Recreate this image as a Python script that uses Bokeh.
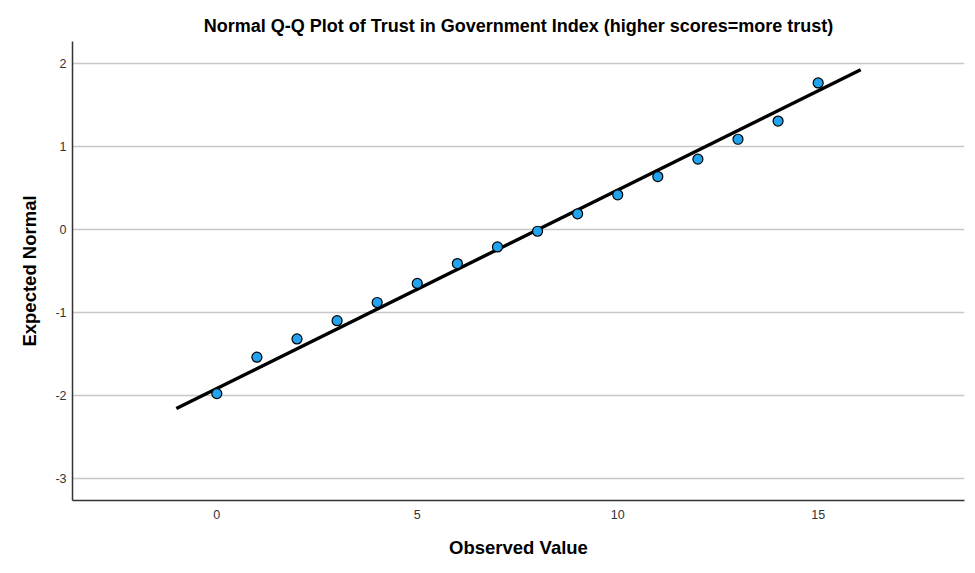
from bokeh.plotting import figure
from bokeh.models import FixedTicker, Range1d
from bokeh.embed import file_html
from bokeh.resources import INLINE

# Data
observed = [0, 1, 2, 3, 4, 5, 6, 7, 8, 9, 10, 11, 12, 13, 14, 15]
expected = [-1.98, -1.54, -1.32, -1.10, -0.88, -0.65, -0.41, -0.21, -0.02,
            0.19, 0.42, 0.64, 0.85, 1.09, 1.31, 1.77]
line_x = [-1.01, 16.06]
line_y = [-2.16, 1.93]
x_ticks = [0, 5, 10, 15]
y_ticks = [-3, -2, -1, 0, 1, 2]
y_tick_labels = ["-3", "-2", "-1", "0", "1", "2"]
x_tick_labels = ["0", "5", "10", "15"]

title_text = "Normal Q-Q Plot of Trust in Government Index (higher scores=more trust)"
FONT = "Liberation Sans"

p = figure(width=967, height=565, output_backend="svg", toolbar_location=None,
           x_range=Range1d(-3.6, 18.65), y_range=Range1d(-3.27, 2.27),
           min_border_left=72, min_border_right=3, min_border_top=41,
           min_border_bottom=65)
p.outline_line_color = None
p.background_fill_color = "white"
p.border_fill_color = "white"

p.title.text = title_text
p.title.text_font = FONT
p.title.text_font_size = "18px"
p.title.text_font_style = "bold"
p.title.align = "center"
p.title.text_color = "black"
p.title.standoff = 12

p.xgrid.grid_line_color = None
p.ygrid.grid_line_color = "#c8c8c8"
p.ygrid.grid_line_width = 1.5

for ax in (p.xaxis[0], p.yaxis[0]):
    ax.major_tick_in = 0
    ax.major_tick_out = 0
    ax.minor_tick_in = 0
    ax.minor_tick_out = 0
    ax.axis_line_color = "#333333"
    ax.axis_line_width = 1.5
    ax.major_label_text_font = FONT
    ax.major_label_text_font_size = "12.5px"
    ax.major_label_text_color = "#333333"
    ax.axis_label_text_font = FONT
    ax.axis_label_text_font_size = "18.5px"
    ax.axis_label_text_font_style = "bold"
    ax.axis_label_text_color = "black"

p.xaxis[0].ticker = FixedTicker(ticks=x_ticks)
p.yaxis[0].ticker = FixedTicker(ticks=y_ticks)
p.xaxis[0].major_label_overrides = {t: s for t, s in zip(x_ticks, x_tick_labels)}
p.yaxis[0].major_label_overrides = {t: s for t, s in zip(y_ticks, y_tick_labels)}
p.xaxis[0].axis_label = "Observed Value"
p.yaxis[0].axis_label = "Expected Normal"
p.xaxis[0].major_label_standoff = 9
p.xaxis[0].axis_label_standoff = 15
p.yaxis[0].major_label_standoff = 6
p.yaxis[0].axis_label_standoff = 12

p.line(line_x, line_y, line_color="black", line_width=3.4)
p.scatter(observed, expected, size=10, fill_color="#22a3ef",
          line_color="black", line_width=1.2)

open("out.html", "w").write(file_html(p, INLINE))
